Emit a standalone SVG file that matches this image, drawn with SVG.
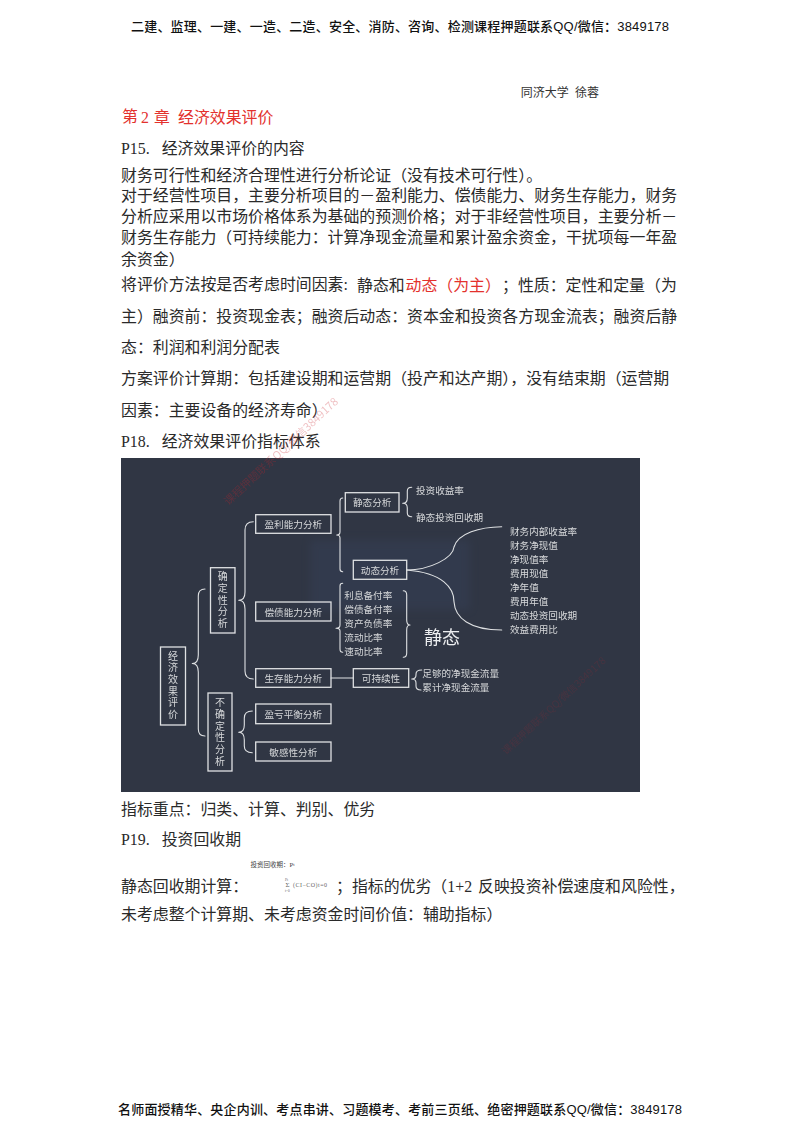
<svg xmlns="http://www.w3.org/2000/svg" width="800" height="1132" viewBox="0 0 800 1132">
<style>
text{font-family:"Liberation Serif","Noto Sans CJK SC",sans-serif;dominant-baseline:central}
.b{font-size:15.9px;fill:#2a2a2a}
.h{font-size:13px;fill:#111;font-weight:500;font-family:"Liberation Sans","Noto Sans CJK SC",sans-serif}
.r{fill:#e3312d}
.n{fill:none;stroke:#dfe1e3;stroke-width:1.3}
.l{fill:#d6d8da;font-size:9.6px;font-family:"Noto Sans CJK SC",sans-serif}
.c{text-anchor:middle}
.v{writing-mode:vertical-rl;text-anchor:middle;font-size:10px;letter-spacing:1.7px}
.k{fill:none;stroke:#dfe1e3;stroke-width:1.1;stroke-linecap:round;stroke-linejoin:round}
.w{fill:#c8232c;font-size:11px;opacity:.28;font-family:"Noto Sans CJK SC",sans-serif}
.f{fill:#666}
</style>
<defs><filter id="bl" x="-20%" y="-20%" width="140%" height="140%"><feGaussianBlur stdDeviation="0.3"/></filter><filter id="bg" x="-30%" y="-30%" width="160%" height="160%"><feGaussianBlur stdDeviation="4"/></filter></defs>
<rect width="800" height="1132" fill="#fff"/>
<text class="h" x="131" y="26" textLength="538" lengthAdjust="spacing">二建、监理、一建、一造、二造、安全、消防、咨询、检测课程押题联系QQ/微信：3849178</text>
<text class="h" x="118" y="1109" textLength="564" lengthAdjust="spacing">名师面授精华、央企内训、考点串讲、习题模考、考前三页纸、绝密押题联系QQ/微信：3849178</text>
<g id="body">
<text x="520.7" y="92.5" font-size="12" fill="#333">同济大学<tspan x="575">徐蓉</tspan></text>
<text class="b r" x="122" y="116.5">第<tspan x="141">2</tspan><tspan x="154">章</tspan><tspan x="178">经济效果评价</tspan></text>
<text class="b" x="121" y="148">P15.<tspan x="161.7">经济效果评价的内容</tspan></text>
<text class="b" x="121" y="175.5">财务可行性和经济合理性进行分析论证（没有技术可行性）。</text>
<text class="b" x="121" y="195.5">对于经营性项目，主要分析项目的－盈利能力、偿债能力、财务生存能力，财务</text>
<text class="b" x="121" y="216.5">分析应采用以市场价格体系为基础的预测价格；对于非经营性项目，主要分析－</text>
<text class="b" x="121" y="237.5">财务生存能力（可持续能力：计算净现金流量和累计盈余资金，干扰项每一年盈</text>
<text class="b" x="121" y="259">余资金）</text>
<text class="b" x="121" y="284.5">将评价方法按是否考虑时间因素:<tspan x="357">静态和</tspan><tspan class="r" x="405.5">动态（为主）</tspan><tspan x="502">；性质：定性和定量（为</tspan></text>
<text class="b" x="121" y="316">主）融资前：投资现金表；融资后动态：资本金和投资各方现金流表；融资后静</text>
<text class="b" x="121" y="347">态：利润和利润分配表</text>
<text class="b" x="121" y="378">方案评价计算期：包括建设期和运营期（投产和达产期），没有结束期（运营期</text>
<text class="b" x="121" y="410">因素：主要设备的经济寿命）</text>
<text class="b" x="121" y="441">P18.<tspan x="161.7">经济效果评价指标体系</tspan></text>
<text class="b" x="121" y="809">指标重点：归类、计算、判别、优劣</text>
<text class="b" x="121" y="839">P19.<tspan x="161.7">投资回收期</tspan></text>
<text class="b" x="121" y="886">静态回收期计算：</text>
<g id="formula">
<text x="250.5" y="864" font-size="6.5" fill="#444">投资回收期：P<tspan font-size="4.5">t</tspan></text>
<text class="f" x="285.5" y="885" font-size="7">Σ</text>
<text class="f" x="285" y="879.5" font-size="3.5">Pt</text>
<text class="f" x="285" y="890.5" font-size="3.5">t=0</text>
<text class="f" x="293" y="885" font-size="6" textLength="34" lengthAdjust="spacing">(CI−CO)t=0</text>
</g>
<text class="b" x="336" y="886">；指标的优劣（1+2<tspan x="478">反映投资补偿速度和风险性，</tspan></text>
<text class="b" x="121" y="914">未考虑整个计算期、未考虑资金时间价值：辅助指标）</text>
</g>
<rect x="121" y="458" width="519" height="334" fill="#303644"/>
<rect x="310" y="540" width="160" height="70" fill="#3a4a68" opacity=".25" filter="url(#bg)"/>
<g id="connectors" filter="url(#bl)">
<path class="k" d="M205 589Q198.3 589 198.3 596V655Q198.3 663.5 192.3 663.5Q198.3 663.5 198.3 672V729Q198.3 736 205 736"/>
<path class="k" d="M253.3 521.7Q245 521.7 245 530V592Q245 600.3 238.7 600.3Q245 600.3 245 609V671Q245 679 253.3 679"/>
<path class="k" d="M342.7 498Q340 498 340 501V532Q340 535 336.7 535Q340 535 340 538V569Q340 571.7 342.7 571.7"/>
<path class="k" d="M342.7 583.3Q340 583.3 340 586V625Q340 628.3 336 628.3Q340 628.3 340 631V649Q340 652.3 342.7 652.3"/>
<path class="k" d="M252.3 711Q244.3 711 244.3 718V725Q244.3 732.3 238.7 732.3Q244.3 732.3 244.3 740V746Q244.3 752.7 252.3 752.7"/>
<path class="k" d="M331 678H353.3"/>
<path class="k" d="M411.7 487.3Q407.3 487.3 407.3 491V498Q407.3 503.3 402.7 503.3Q407.3 503.3 407.3 508V513Q407.3 516.7 411.7 516.7"/>
<path class="k" d="M403.3 590.7Q406.7 590.7 406.7 595V620Q406.7 625 410 625Q406.7 625 406.7 630V653Q406.7 657.3 403.3 657.3"/>
<path class="k" d="M421.7 670Q416 670 416 674V675Q416 679 411.7 679Q416 679 416 683V686Q416 690 421 690"/>
<path class="k" d="M406.7 570C430 570 453 558 454 547C458 533 480 527 501.7 526.7"/>
<path class="k" d="M406.7 570C443 573 454 588 454 601.7C455 618 470 630 501.7 630"/>
</g>
<g filter="url(#bl)">
<g id="n-root"><rect class="n" x="160.5" y="647" width="25" height="78"/><text class="l v" x="173" y="686">经济效果评价</text></g>
<g id="n-certain"><rect class="n" x="210.5" y="567.7" width="24.5" height="65.3"/><text class="l v" x="222.7" y="600.7">确定性分析</text></g>
<g id="n-uncertain"><rect class="n" x="208" y="693" width="24" height="78"/><text class="l v" x="220" y="732.5">不确定性分析</text></g>
<g id="n-profit"><rect class="n" x="255.7" y="514.7" width="75.3" height="18.6"/><text class="l c" x="293.3" y="524">盈利能力分析</text></g>
<g id="n-debt"><rect class="n" x="255.7" y="602" width="75.3" height="19"/><text class="l c" x="293.3" y="611.5">偿债能力分析</text></g>
<g id="n-survive"><rect class="n" x="255.7" y="668.7" width="75.3" height="18.6"/><text class="l c" x="293.3" y="678">生存能力分析</text></g>
<g id="n-breakeven"><rect class="n" x="255.7" y="704" width="75.3" height="19.7"/><text class="l c" x="293.3" y="714">盈亏平衡分析</text></g>
<g id="n-sensitive"><rect class="n" x="255.7" y="742" width="75.3" height="19"/><text class="l c" x="293.3" y="751.5">敏感性分析</text></g>
<g id="n-static"><rect class="n" x="345.3" y="492.7" width="53.7" height="19.3"/><text class="l c" x="372.2" y="502.3">静态分析</text></g>
<g id="n-dynamic"><rect class="n" x="353.3" y="560.3" width="53.4" height="19"/><text class="l c" x="380" y="569.8">动态分析</text></g>
<g id="n-sustain"><rect class="n" x="353.3" y="668.7" width="55.4" height="18.6"/><text class="l c" x="381" y="678">可持续性</text></g>
<g id="labels">
<text class="l" x="416" y="489.7">投资收益率</text>
<text class="l" x="416" y="517">静态投资回收期</text>
<text class="l" x="510" y="531">财务内部收益率</text>
<text class="l" x="510" y="545">财务净现值</text>
<text class="l" x="510" y="559.3">净现值率</text>
<text class="l" x="510" y="573.3">费用现值</text>
<text class="l" x="510" y="587">净年值</text>
<text class="l" x="510" y="601">费用年值</text>
<text class="l" x="510" y="615">动态投资回收期</text>
<text class="l" x="510" y="628.7">效益费用比</text>
<text class="l" x="344.3" y="595">利息备付率</text>
<text class="l" x="344.3" y="609">偿债备付率</text>
<text class="l" x="344.3" y="622.7">资产负债率</text>
<text class="l" x="344.3" y="636.7">流动比率</text>
<text class="l" x="344.3" y="650.7">速动比率</text>
<text class="l" x="422.3" y="673">足够的净现金流量</text>
<text class="l" x="422.3" y="687.3">累计净现金流量</text>
<text x="424" y="637.7" font-size="18" fill="#eceef0" font-family="Noto Sans CJK SC,sans-serif">静态</text>
</g>
</g>
<g id="watermarks">
<text class="w" transform="translate(225 502) rotate(-43)">课程押题联系QQ/微信3849178</text>
<text class="w" transform="translate(503 752) rotate(-43)" style="font-size:10px;opacity:.15">课程押题联系QQ/微信3849178</text>
</g>
</svg>
